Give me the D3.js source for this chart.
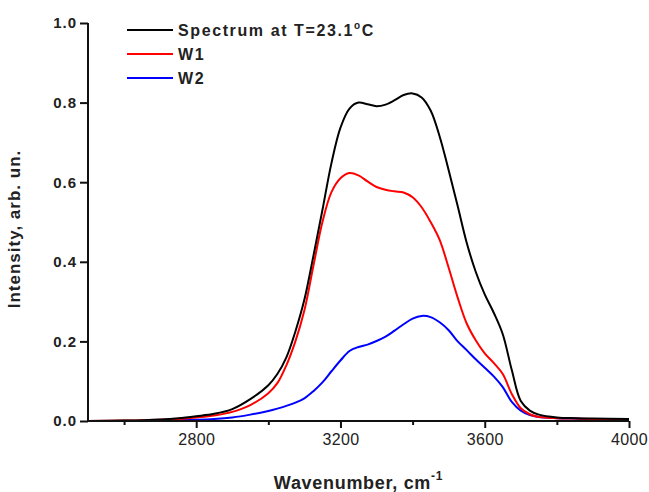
<!DOCTYPE html>
<html>
<head>
<meta charset="utf-8">
<script src="https://cdn.jsdelivr.net/npm/d3@7"></script>
<style>
  body { margin: 0; background: #fff; }
  svg { display: block; font-family: "Liberation Sans", Arial, sans-serif; }
  .x-axis .tick text { font-size: 16px; fill: #222; letter-spacing: 0.3px; }
  .y-axis .tick text { font-weight: bold; font-size: 15px; fill: #222; letter-spacing: 1px; }
</style>
</head>
<body>
<svg width="649" height="492"></svg>
<script>
// wavenumber grid, cm-1
const wavenumber = [2500, 2600, 2700, 2750, 2800, 2850, 2900, 2950, 3000, 3025, 3050, 3075, 3100, 3125, 3150, 3175,
  3200, 3225, 3250, 3275, 3300, 3325, 3350, 3375, 3400, 3425, 3450, 3475, 3500, 3525, 3550, 3575,
  3600, 3625, 3650, 3675, 3700, 3725, 3750, 3800, 3850, 3900, 4000];

// series values
const spectrum = [0.0, 0.001, 0.004, 0.007, 0.012, 0.018, 0.03, 0.055, 0.09, 0.118, 0.16, 0.225, 0.305, 0.415, 0.53, 0.648,
  0.737, 0.785, 0.80, 0.796, 0.791, 0.795, 0.806, 0.819, 0.823, 0.813, 0.78, 0.715, 0.63, 0.54, 0.448, 0.375,
  0.318, 0.272, 0.218, 0.128, 0.05, 0.026, 0.016, 0.009, 0.007, 0.006, 0.005];
const w1 = [0.0, 0.001, 0.003, 0.005, 0.009, 0.014, 0.023, 0.04, 0.07, 0.095, 0.14, 0.20, 0.278, 0.39, 0.50, 0.575,
  0.61, 0.623, 0.617, 0.602, 0.588, 0.581, 0.577, 0.574, 0.562, 0.537, 0.5, 0.455, 0.385, 0.31, 0.245, 0.203,
  0.17, 0.146, 0.118, 0.068, 0.032, 0.017, 0.01, 0.007, 0.006, 0.005, 0.004];
const w2 = [0.0, 0.0, 0.001, 0.002, 0.003, 0.005, 0.009, 0.016, 0.025, 0.031, 0.038, 0.046, 0.057, 0.075, 0.097, 0.125,
  0.152, 0.176, 0.186, 0.192, 0.201, 0.212, 0.227, 0.243, 0.257, 0.264, 0.261, 0.248, 0.228, 0.2, 0.178, 0.155,
  0.134, 0.112, 0.085, 0.048, 0.026, 0.015, 0.01, 0.007, 0.006, 0.005, 0.005];

const seriesNames = ["Spectrum at T=23.1", "W1", "W2"];
const seriesColors = ["#000000", "#ff0000", "#0000ff"];
const xMajorTicks = [2800, 3200, 3600, 4000];
const xMinorTicks = [2600, 3000, 3400, 3800];
const yTicks = [0.0, 0.2, 0.4, 0.6, 0.8, 1.0];

// chart dimensions
const svg = d3.select("svg");
const margin = {left: 88, right: 20, top: 23, bottom: 71};
const width = 629 - margin.left;
const height = 421 - margin.top;

const x = d3.scaleLinear().domain([2500, 4000]).range([0, width]);
const y = d3.scaleLinear().domain([0, 1]).range([height, 0]);

const g = svg.append("g")
  .attr("transform", "translate(" + margin.left + "," + margin.top + ")");

// curves
const series = [spectrum, w1, w2];
const line = d3.line()
  .x((d, i) => x(wavenumber[i]))
  .y(d => y(d))
  .curve(d3.curveCatmullRom.alpha(0.5));

// draw W2 first so the spectrum sits on top
[2, 1, 0].forEach(k => {
  g.append("path")
    .datum(series[k])
    .attr("fill", "none")
    .attr("stroke", seriesColors[k])
    .attr("stroke-width", 2)
    .attr("d", line);
});

// axes
const xAxis = g.append("g")
  .attr("class", "x-axis")
  .attr("transform", "translate(0," + height + ")")
  .call(d3.axisBottom(x).tickValues(xMajorTicks).tickSize(7).tickPadding(3).tickFormat(d3.format("d")));
g.append("g")
  .attr("transform", "translate(0," + height + ")")
  .call(d3.axisBottom(x).tickValues(xMinorTicks).tickSize(4).tickFormat(""))
  .call(a => a.select(".domain").remove());
const yAxis = g.append("g")
  .attr("class", "y-axis")
  .call(d3.axisLeft(y).tickValues(yTicks).tickSize(8).tickPadding(3).tickFormat(d3.format(".1f")));

svg.selectAll(".domain").attr("stroke-width", 2).attr("stroke", "#111");
svg.selectAll(".tick line").attr("stroke-width", 2).attr("stroke", "#111");
xAxis.selectAll(".domain").attr("d", "M0,0H" + width);
yAxis.selectAll(".domain").attr("d", "M0," + height + "V0");
xAxis.selectAll(".tick text").attr("dy", "0.85em");

// axis titles
const xt = svg.append("text")
  .attr("x", margin.left + width / 2)
  .attr("y", 489)
  .attr("text-anchor", "middle")
  .style("font-weight", "bold")
  .style("font-size", "18px")
  .style("letter-spacing", "0.7px")
  .attr("fill", "#222");
xt.append("tspan").text("Wavenumber, cm");
xt.append("tspan").attr("dy", -9).style("font-size", "12px").text("-1");

svg.append("text")
  .attr("transform", "translate(20,229) rotate(-90)")
  .attr("text-anchor", "middle")
  .style("font-weight", "bold")
  .style("font-size", "17px")
  .style("letter-spacing", "1px")
  .attr("fill", "#222")
  .text("Intensity, arb. un.");

// legend
const legend = svg.selectAll(".key")
  .data(seriesNames)
  .enter()
  .append("g")
  .attr("class", "key")
  .attr("transform", (d, i) => "translate(127," + (30 + i * 24) + ")");
legend.append("line")
  .attr("x1", 0).attr("x2", 46)
  .attr("stroke", (d, i) => seriesColors[i])
  .attr("stroke-width", 2);
const lt = legend.append("text")
  .attr("x", 51)
  .attr("y", 6)
  .style("font-weight", "bold")
  .style("font-size", "16px")
  .style("letter-spacing", "1.6px")
  .attr("fill", "#222");
lt.append("tspan").text(d => d);
lt.filter((d, i) => i == 0).append("tspan")
  .attr("dy", -7).style("font-size", "10px").text("o");
lt.filter((d, i) => i == 0).append("tspan")
  .attr("dy", 7).text("C");
</script>
</body>
</html>
